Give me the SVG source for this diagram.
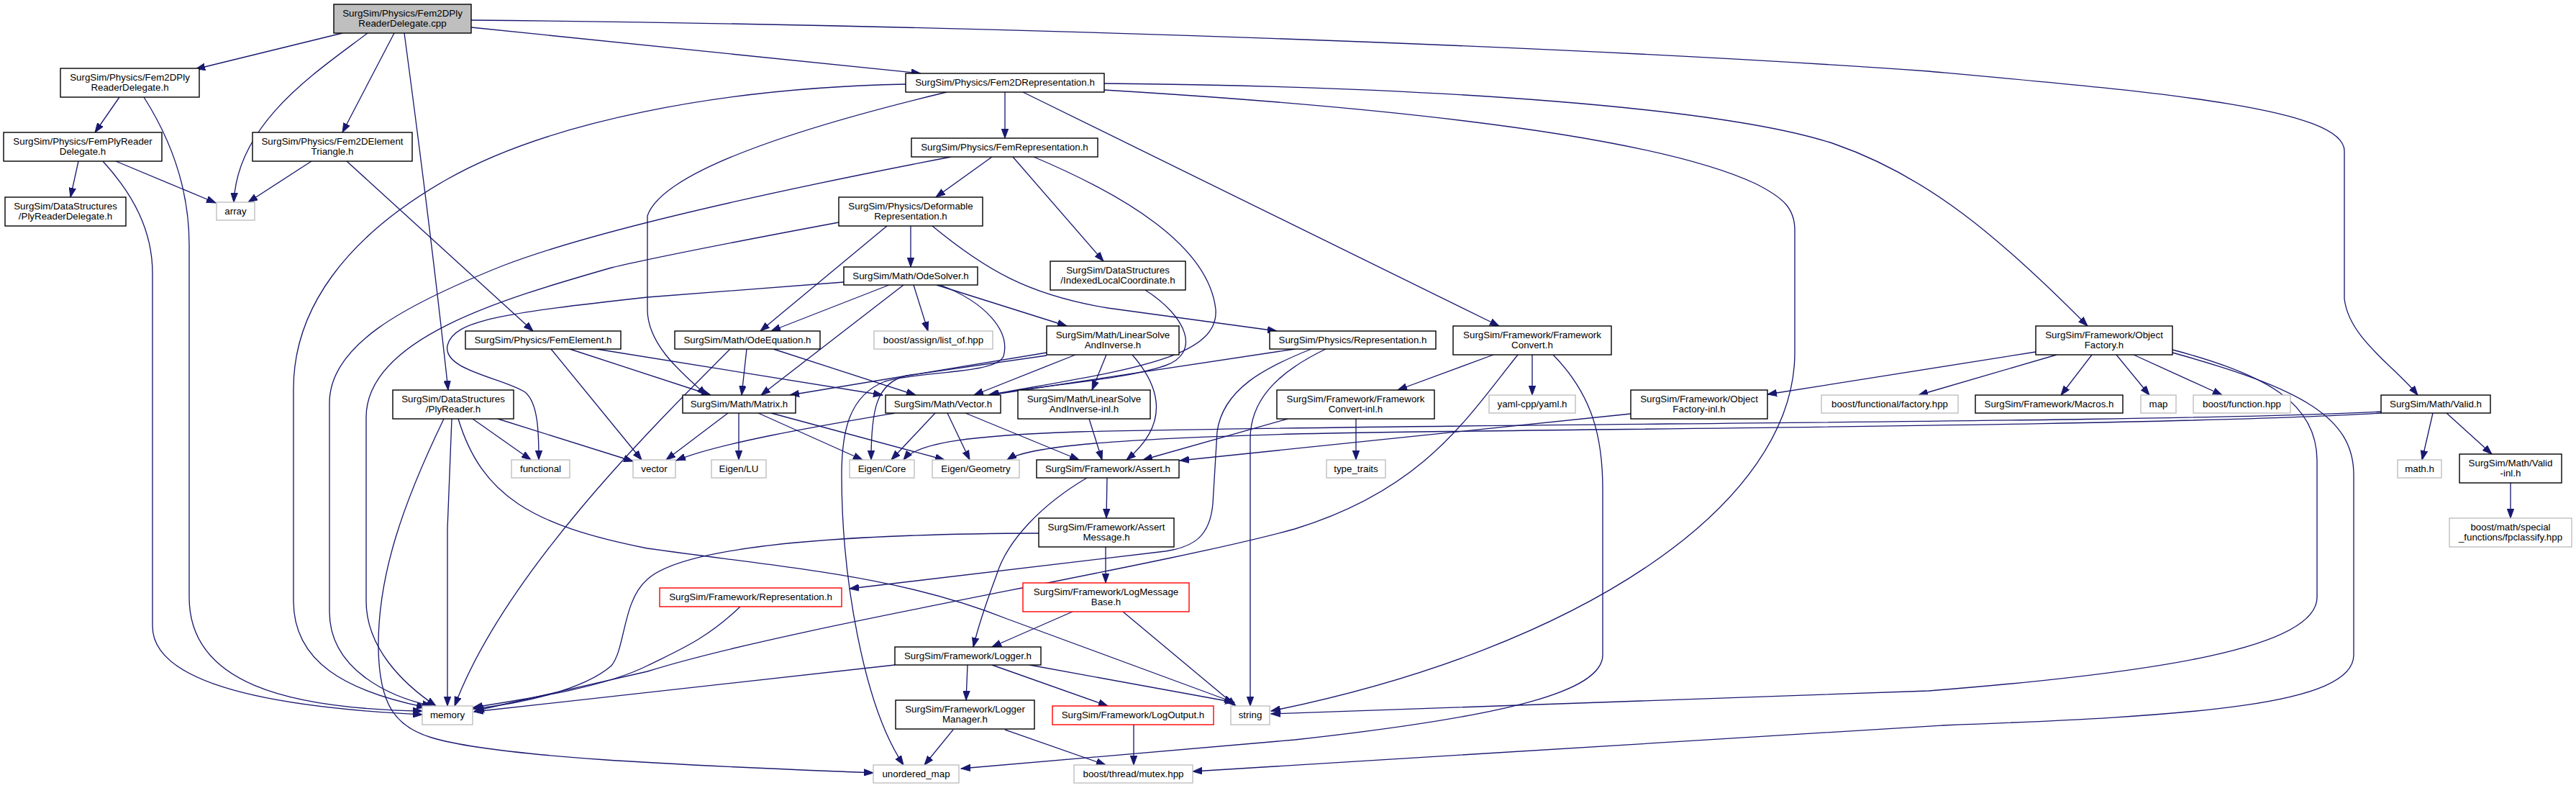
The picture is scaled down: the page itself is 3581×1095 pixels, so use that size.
<svg xmlns="http://www.w3.org/2000/svg" width="3581" height="1095" viewBox="0 0 3581 1095">
<style>
.n rect{fill:#fff;stroke:#000;stroke-width:1.4}
.n.g rect{stroke:#bfbfbf}
.n.r rect{stroke:#ff0000}
.n.root rect{fill:#bfbfbf}
text{font-family:"Liberation Sans",Arial,sans-serif;font-size:13.33px;text-anchor:middle;fill:#000}
#edges path{fill:none;stroke:#191970;stroke-width:1.33;marker-end:url(#a)}
</style>
<defs>
<marker id="a" markerWidth="14" markerHeight="10" refX="13" refY="5" orient="auto" markerUnits="userSpaceOnUse"><path d="M0,0.3 L13,5 L0,9.7 z" fill="#191970" stroke="#191970" stroke-width="1"/></marker>
</defs>
<rect width="3581" height="1095" fill="#fff"/>
<g id="edges">
<path d="M476,46 L272,96"/>
<path d="M511,46 C440,100 330,170 325,281"/>
<path d="M548,46 L476,184"/>
<path d="M562,46 C580,180 600,330 623,542"/>
<path d="M655,38 L1280,102"/>
<path d="M655,28 C1400,35 2200,65 2681,99 C3000,128 3259,150 3259,210 L3259,415 C3265,470 3330,510 3361,549"/>
<path d="M166,135 L132,184"/>
<path d="M200,135 C235,190 263,260 263,340 L263,830 C263,950 400,985 587,988"/>
<path d="M143,224 C185,270 212,320 212,380 L212,870 C212,960 420,985 587,993"/>
<path d="M109,224 L98,274"/>
<path d="M161,224 L300,282"/>
<path d="M433,224 L345,281"/>
<path d="M482,224 L741,460"/>
<path d="M1397,128 L1397,192"/>
<path d="M1259,117 C1000,122 760,170 620,250 C480,330 408,430 408,540 L408,835 C408,920 480,960 592,983"/>
<path d="M1322,218 C1000,280 800,330 697,370 C560,425 458,480 458,560 L458,850 C458,930 540,968 600,981"/>
<path d="M1166,309 C1000,340 900,360 850,372 C700,415 509,470 509,580 L509,835 C509,900 560,950 606,981"/>
<path d="M1379,218 L1301,274"/>
<path d="M1408,218 L1534,363"/>
<path d="M1437,218 C1560,270 1680,340 1690,430 C1695,500 1560,515 1374,549"/>
<path d="M1316,128 C1100,180 920,240 900,300 L900,430 C900,480 950,520 982,549"/>
<path d="M1422,128 L2084,453"/>
<path d="M1535,116 C2000,120 2400,150 2550,200 C2680,245 2780,330 2902,453"/>
<path d="M1535,125 C1950,150 2300,190 2440,255 C2480,275 2495,290 2495,320 L2495,490 C2495,700 2200,900 1767,988"/>
<path d="M1266,314 L1266,371"/>
<path d="M1233,314 L1057,460"/>
<path d="M1296,314 C1370,375 1430,410 1540,428 L1775,460"/>
<path d="M1236,396 L1072,460"/>
<path d="M1256,396 L1058,549"/>
<path d="M1270,396 L1290,460"/>
<path d="M1302,396 L1483,453"/>
<path d="M1307,396 C1370,420 1405,460 1395,495 C1385,520 1280,515 1230,530 C1180,550 1170,600 1170,660 C1170,800 1200,980 1256,1063"/>
<path d="M1173,392 L900,413 C700,435 630,445 622,480 C615,515 700,525 730,545 C748,560 749,600 749,639"/>
<path d="M1455,490 L1098,549"/>
<path d="M1455,494 L1260,522 C1218,532 1211,570 1211,639"/>
<path d="M1495,493 L1354,549"/>
<path d="M1538,493 L1518,542"/>
<path d="M1574,493 C1615,540 1625,590 1566,639"/>
<path d="M1038,485 L1031,549"/>
<path d="M1075,485 L1273,549"/>
<path d="M1015,485 C900,600 700,800 632,981"/>
<path d="M1012,574 L926,639"/>
<path d="M1027,574 L1027,639"/>
<path d="M1054,574 L1199,639"/>
<path d="M1072,574 L1313,639"/>
<path d="M1244,574 C1150,590 1000,615 940,640"/>
<path d="M1300,574 L1239,639"/>
<path d="M1317,574 L1348,639"/>
<path d="M1342,574 L1500,639"/>
<path d="M1514,582 L1532,639"/>
<path d="M1790,582 L1589,639"/>
<path d="M2267,575 L1640,640"/>
<path d="M3310,572 C3000,588 2000,588 1500,600 C1350,605 1275,615 1256,639"/>
<path d="M3310,574 C3000,593 2100,596 1800,603 C1550,610 1430,620 1400,639"/>
<path d="M657,582 L738,639"/>
<path d="M692,582 L880,641"/>
<path d="M628,582 L622,735 L622,981"/>
<path d="M617,582 C560,700 525,800 526,900 C527,980 550,1010 600,1025 C700,1055 1000,1065 1214,1074"/>
<path d="M637,582 C670,690 740,730 900,762 C1100,790 1250,800 1400,860 L1715,976"/>
<path d="M766,485 L892,639"/>
<path d="M792,485 L988,549"/>
<path d="M829,485 L1227,549"/>
<path d="M1800,485 L1376,549"/>
<path d="M1823,485 C1760,510 1700,540 1692,600 L1686,700 C1682,745 1660,760 1620,766 L1181,818"/>
<path d="M1843,485 C1770,520 1738,560 1738,610 L1738,981"/>
<path d="M1592,403 C1650,440 1670,490 1620,508 C1560,528 1450,535 1376,549"/>
<path d="M2076,493 L1943,542"/>
<path d="M2130,493 L2130,549"/>
<path d="M2110,493 C2040,580 1980,680 1800,735 C1600,790 1100,870 900,933 L660,988"/>
<path d="M2159,493 C2215,550 2228,610 2228,680 L2228,910 C2228,960 2100,995 1800,1028 L1336,1068"/>
<path d="M1885,582 L1885,639"/>
<path d="M2830,489 L2457,548"/>
<path d="M2859,493 L2667,549"/>
<path d="M2908,493 L2865,549"/>
<path d="M2942,493 L2988,549"/>
<path d="M2966,493 L3089,549"/>
<path d="M3020,486 C3150,520 3221,560 3221,640 L3221,830 C3221,900 3000,935 2681,960 L1767,992"/>
<path d="M3020,490 C3200,540 3272,580 3272,660 L3272,910 C3272,980 3050,995 2700,1008 C2300,1030 1900,1055 1658,1072"/>
<path d="M3382,574 L3367,639"/>
<path d="M3401,574 L3464,631"/>
<path d="M3490,671 L3490,720"/>
<path d="M1539,664 L1538,720"/>
<path d="M1511,664 C1450,700 1400,750 1385,800 C1370,840 1360,870 1353,899"/>
<path d="M1444,741 C1150,742 950,760 900,805 C865,835 870,900 850,925 C810,960 720,978 658,985"/>
<path d="M1537,760 L1537,810"/>
<path d="M1029,843 C980,890 940,905 900,925 C840,955 740,970 658,983"/>
<path d="M1491,850 L1379,899"/>
<path d="M1561,850 L1718,981"/>
<path d="M1244,924 L659,989"/>
<path d="M1345,924 L1343,973"/>
<path d="M1379,924 L1540,981"/>
<path d="M1431,924 L1716,976"/>
<path d="M1325,1014 L1285,1063"/>
<path d="M1397,1014 L1537,1063"/>
<path d="M1576,1007 L1576,1063"/>
</g>
<g id="n1" class="n root"><rect x="464" y="6" width="191" height="40"/><text x="559.5" y="23">SurgSim/Physics/Fem2DPly</text><text x="559.5" y="37">ReaderDelegate.cpp</text></g>
<g id="n2" class="n"><rect x="84" y="95" width="193" height="40"/><text x="180.5" y="112">SurgSim/Physics/Fem2DPly</text><text x="180.5" y="126">ReaderDelegate.h</text></g>
<g id="n3" class="n"><rect x="5" y="184" width="220" height="40"/><text x="115" y="201">SurgSim/Physics/FemPlyReader</text><text x="115" y="215">Delegate.h</text></g>
<g id="n4" class="n"><rect x="7" y="274" width="168" height="40"/><text x="91" y="291">SurgSim/DataStructures</text><text x="91" y="305">/PlyReaderDelegate.h</text></g>
<g id="n5" class="n g"><rect x="301" y="281" width="53" height="25"/><text x="327.5" y="298">array</text></g>
<g id="n6" class="n"><rect x="351" y="184" width="222" height="40"/><text x="462" y="201">SurgSim/Physics/Fem2DElement</text><text x="462" y="215">Triangle.h</text></g>
<g id="n7" class="n"><rect x="1259" y="102" width="276" height="26"/><text x="1397" y="119">SurgSim/Physics/Fem2DRepresentation.h</text></g>
<g id="n8" class="n"><rect x="1267" y="192" width="259" height="26"/><text x="1396.5" y="209">SurgSim/Physics/FemRepresentation.h</text></g>
<g id="n9" class="n"><rect x="1166" y="274" width="200" height="40"/><text x="1266" y="291">SurgSim/Physics/Deformable</text><text x="1266" y="305">Representation.h</text></g>
<g id="n10" class="n"><rect x="1460" y="363" width="188" height="40"/><text x="1554" y="380">SurgSim/DataStructures</text><text x="1554" y="394">/IndexedLocalCoordinate.h</text></g>
<g id="n11" class="n"><rect x="1173" y="371" width="186" height="25"/><text x="1266" y="388">SurgSim/Math/OdeSolver.h</text></g>
<g id="n12" class="n"><rect x="938" y="460" width="202" height="25"/><text x="1039" y="477">SurgSim/Math/OdeEquation.h</text></g>
<g id="n13" class="n g"><rect x="1215" y="460" width="165" height="25"/><text x="1297.5" y="477">boost/assign/list_of.hpp</text></g>
<g id="n14" class="n"><rect x="1455" y="453" width="184" height="40"/><text x="1547" y="470">SurgSim/Math/LinearSolve</text><text x="1547" y="484">AndInverse.h</text></g>
<g id="n15" class="n"><rect x="949" y="549" width="157" height="25"/><text x="1027.5" y="566">SurgSim/Math/Matrix.h</text></g>
<g id="n16" class="n"><rect x="1231" y="549" width="160" height="25"/><text x="1311" y="566">SurgSim/Math/Vector.h</text></g>
<g id="n17" class="n"><rect x="1415" y="542" width="184" height="40"/><text x="1507" y="559">SurgSim/Math/LinearSolve</text><text x="1507" y="573">AndInverse-inl.h</text></g>
<g id="n18" class="n g"><rect x="989" y="639" width="76" height="25"/><text x="1027" y="656">Eigen/LU</text></g>
<g id="n19" class="n g"><rect x="1181" y="639" width="90" height="25"/><text x="1226" y="656">Eigen/Core</text></g>
<g id="n20" class="n g"><rect x="1296" y="639" width="121" height="25"/><text x="1356.5" y="656">Eigen/Geometry</text></g>
<g id="n21" class="n"><rect x="1441" y="639" width="198" height="25"/><text x="1540" y="656">SurgSim/Framework/Assert.h</text></g>
<g id="n22" class="n"><rect x="1444" y="720" width="188" height="40"/><text x="1538" y="737">SurgSim/Framework/Assert</text><text x="1538" y="751">Message.h</text></g>
<g id="n23" class="n g"><rect x="880" y="639" width="59" height="25"/><text x="909.5" y="656">vector</text></g>
<g id="n24" class="n g"><rect x="711" y="639" width="81" height="25"/><text x="751.5" y="656">functional</text></g>
<g id="n25" class="n"><rect x="647" y="460" width="216" height="25"/><text x="755" y="477">SurgSim/Physics/FemElement.h</text></g>
<g id="n26" class="n"><rect x="546" y="542" width="168" height="40"/><text x="630" y="559">SurgSim/DataStructures</text><text x="630" y="573">/PlyReader.h</text></g>
<g id="n27" class="n"><rect x="1765" y="460" width="231" height="25"/><text x="1880.5" y="477">SurgSim/Physics/Representation.h</text></g>
<g id="n28" class="n"><rect x="1775" y="542" width="219" height="40"/><text x="1884.5" y="559">SurgSim/Framework/Framework</text><text x="1884.5" y="573">Convert-inl.h</text></g>
<g id="n29" class="n"><rect x="2020" y="453" width="220" height="40"/><text x="2130" y="470">SurgSim/Framework/Framework</text><text x="2130" y="484">Convert.h</text></g>
<g id="n30" class="n g"><rect x="2070" y="549" width="120" height="25"/><text x="2130" y="566">yaml-cpp/yaml.h</text></g>
<g id="n31" class="n"><rect x="2267" y="542" width="190" height="40"/><text x="2362" y="559">SurgSim/Framework/Object</text><text x="2362" y="573">Factory-inl.h</text></g>
<g id="n32" class="n g"><rect x="2532" y="549" width="190" height="25"/><text x="2627" y="566">boost/functional/factory.hpp</text></g>
<g id="n33" class="n g"><rect x="1844" y="639" width="82" height="25"/><text x="1885" y="656">type_traits</text></g>
<g id="n34" class="n"><rect x="2830" y="453" width="190" height="40"/><text x="2925" y="470">SurgSim/Framework/Object</text><text x="2925" y="484">Factory.h</text></g>
<g id="n35" class="n"><rect x="2746" y="549" width="205" height="25"/><text x="2848.5" y="566">SurgSim/Framework/Macros.h</text></g>
<g id="n36" class="n g"><rect x="2976" y="549" width="49" height="25"/><text x="3000.5" y="566">map</text></g>
<g id="n37" class="n g"><rect x="3049" y="549" width="135" height="25"/><text x="3116.5" y="566">boost/function.hpp</text></g>
<g id="n38" class="n"><rect x="3310" y="549" width="152" height="25"/><text x="3386" y="566">SurgSim/Math/Valid.h</text></g>
<g id="n39" class="n g"><rect x="3333" y="639" width="61" height="25"/><text x="3363.5" y="656">math.h</text></g>
<g id="n40" class="n"><rect x="3419" y="631" width="142" height="40"/><text x="3490" y="648">SurgSim/Math/Valid</text><text x="3490" y="662">-inl.h</text></g>
<g id="n41" class="n g"><rect x="3405" y="720" width="170" height="40"/><text x="3490" y="737">boost/math/special</text><text x="3490" y="751">_functions/fpclassify.hpp</text></g>
<g id="n42" class="n r"><rect x="917" y="817" width="253" height="26"/><text x="1043.5" y="834">SurgSim/Framework/Representation.h</text></g>
<g id="n43" class="n r"><rect x="1422" y="810" width="231" height="40"/><text x="1537.5" y="827">SurgSim/Framework/LogMessage</text><text x="1537.5" y="841">Base.h</text></g>
<g id="n44" class="n"><rect x="1244" y="899" width="203" height="25"/><text x="1345.5" y="916">SurgSim/Framework/Logger.h</text></g>
<g id="n45" class="n"><rect x="1245" y="973" width="193" height="40"/><text x="1341.5" y="990">SurgSim/Framework/Logger</text><text x="1341.5" y="1004">Manager.h</text></g>
<g id="n46" class="n r"><rect x="1463" y="981" width="224" height="26"/><text x="1575" y="998">SurgSim/Framework/LogOutput.h</text></g>
<g id="n47" class="n g"><rect x="1711" y="981" width="54" height="26"/><text x="1738" y="998">string</text></g>
<g id="n48" class="n g"><rect x="1214" y="1063" width="119" height="25"/><text x="1273.5" y="1080">unordered_map</text></g>
<g id="n49" class="n g"><rect x="1493" y="1063" width="165" height="25"/><text x="1575.5" y="1080">boost/thread/mutex.hpp</text></g>
<g id="n50" class="n g"><rect x="587" y="981" width="70" height="26"/><text x="622" y="998">memory</text></g>
</svg>
